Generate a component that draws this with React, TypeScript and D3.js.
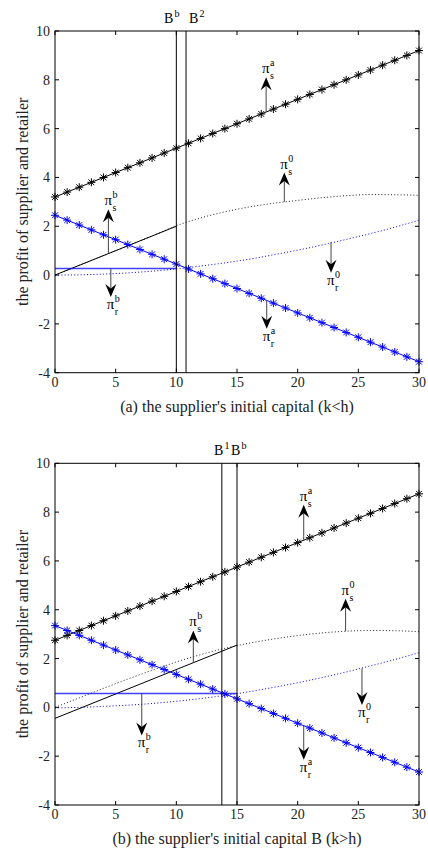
import * as d3 from "d3";

const capital = [0, 1, 2, 3, 4, 5, 6, 7, 8, 9, 10, 11, 12, 13, 14, 15, 16, 17, 18, 19, 20, 21, 22, 23, 24, 25, 26, 27, 28, 29, 30];
const capitalEven = [0, 2, 4, 6, 8, 10, 12, 14, 16, 18, 20, 22, 24, 26, 28, 30];
const xTicks = [0, 5, 10, 15, 20, 25, 30];
const yTicks = [-4, -2, 0, 2, 4, 6, 8, 10];

// panel (a) k<h
const aSupplierA = [3.2, 3.4, 3.6, 3.8, 4.0, 4.2, 4.4, 4.6, 4.8, 5.0, 5.2, 5.4, 5.6, 5.8, 6.0, 6.2, 6.4, 6.6, 6.8, 7.0, 7.2, 7.4, 7.6, 7.8, 8.0, 8.2, 8.4, 8.6, 8.8, 9.0, 9.2];
const aRetailerA = [2.45, 2.25, 2.05, 1.85, 1.65, 1.45, 1.25, 1.05, 0.85, 0.65, 0.45, 0.25, 0.05, -0.15, -0.35, -0.55, -0.75, -0.95, -1.15, -1.35, -1.55, -1.75, -1.95, -2.15, -2.35, -2.55, -2.75, -2.95, -3.15, -3.35, -3.55];
const aSupplier0 = [0, 0.4, 0.8, 1.2, 1.6, 2.02, 2.34, 2.59, 2.79, 2.94, 3.06, 3.17, 3.25, 3.3, 3.29, 3.27];
const aRetailer0 = [0, 0.01, 0.04, 0.09, 0.16, 0.25, 0.37, 0.5, 0.65, 0.83, 1.02, 1.23, 1.46, 1.7, 1.96, 2.25];
const aSupplierBX = [0, 10];
const aSupplierBY = [0, 2];
const aRetailerBX = [0, 10];
const aRetailerBY = [0.27, 0.27];
const aBounds = [10, 10.8];
const aBoundSup = ["b", "2"];
const aArrowX = [17.4, 18.9, 4.4, 4.6, 22.75, 17.45];
const aArrowFrom = [6.68, 3.0, 0.88, 0.27, 1.35, -1.04];
const aArrowTo = [8.1, 4.2, 2.7, -0.9, 0.1, -2.2];
const aArrowSub = ["s", "s", "s", "r", "r", "r"];
const aArrowSup = ["a", "0", "b", "b", "0", "a"];

// panel (b) k>h
const bSupplierA = [2.75, 2.95, 3.15, 3.35, 3.55, 3.75, 3.95, 4.15, 4.35, 4.55, 4.75, 4.95, 5.15, 5.35, 5.55, 5.75, 5.95, 6.15, 6.35, 6.55, 6.75, 6.95, 7.15, 7.35, 7.55, 7.75, 7.95, 8.15, 8.35, 8.55, 8.75];
const bRetailerA = [3.35, 3.15, 2.95, 2.75, 2.55, 2.35, 2.15, 1.95, 1.75, 1.55, 1.35, 1.15, 0.95, 0.75, 0.55, 0.35, 0.15, -0.05, -0.25, -0.45, -0.65, -0.85, -1.05, -1.25, -1.45, -1.65, -1.85, -2.05, -2.25, -2.45, -2.65];
const bSupplier0 = [0, 0.39, 0.78, 1.16, 1.52, 1.86, 2.16, 2.42, 2.63, 2.8, 2.94, 3.05, 3.12, 3.15, 3.14, 3.1];
const bRetailer0 = [-0.02, 0.0, 0.04, 0.09, 0.16, 0.25, 0.36, 0.49, 0.64, 0.82, 1.01, 1.22, 1.45, 1.7, 1.96, 2.24];
const bSupplierBX = [0, 15];
const bSupplierBY = [-0.45, 2.55];
const bRetailerBX = [0, 15];
const bRetailerBY = [0.57, 0.57];
const bBounds = [13.75, 15];
const bBoundSup = ["1", "b"];
const bArrowX = [20.5, 23.95, 11.4, 7.15, 25.3, 20.5];
const bArrowFrom = [6.85, 3.12, 1.83, 0.57, 1.6, -0.75];
const bArrowTo = [8.3, 4.45, 3.15, -1.15, 0.1, -2.15];
const bArrowSub = ["s", "s", "s", "r", "r", "r"];
const bArrowSup = ["a", "0", "b", "b", "0", "a"];

const FONT = "'Liberation Serif', 'Times New Roman', serif";
const BLUE = "#0000ff";

const zip = (xs: number[], ys: number[]) => xs.map((x, i) => [x, ys[i]] as [number, number]);

const Star = ({ x, y, color }: { x: number; y: number; color: string }) => {
  const a = 4;
  const b = 2.9;
  return (
    <path
      d={`M${x - a},${y}H${x + a}M${x},${y - a}V${y + a}M${x - b},${y - b}L${x + b},${y + b}M${x - b},${y + b}L${x + b},${y - b}`}
      stroke={color}
      strokeWidth={1}
    />
  );
};

const Panel = (props: any) => {
  const { top, bottom, title, sA, rA, s0, r0, sbx, sby, rbx, rby, bounds, boundSup, boundLabelX, ax, af, at, asub, asup } = props;
  const x = d3.scaleLinear().domain([0, 30]).range([55, 419]);
  const y = d3.scaleLinear().domain([-4, 10]).range([bottom, top]);
  const line = d3.line<[number, number]>().x((d) => x(d[0])).y((d) => y(d[1]));
  const curve = d3.line<[number, number]>().x((d) => x(d[0])).y((d) => y(d[1])).curve(d3.curveMonotoneX);
  const mid = (top + bottom) / 2;

  return (
    <g fontFamily={FONT}>
      {/* dotted reference curves */}
      <path d={curve(zip(capitalEven, s0)) || ""} fill="none" stroke="#222" strokeWidth={1} strokeDasharray="1,2.2" />
      <path d={curve(zip(capitalEven, r0)) || ""} fill="none" stroke={BLUE} strokeWidth={1} strokeDasharray="1,2.2" />
      {/* pi_b lines */}
      <path d={line(zip(sbx, sby)) || ""} fill="none" stroke="#000" strokeWidth={1} />
      <path d={line(zip(rbx, rby)) || ""} fill="none" stroke={BLUE} strokeWidth={1.4} opacity={0.75} />
      {/* pi_a lines with markers */}
      <path d={line(zip(capital, sA)) || ""} fill="none" stroke="#000" strokeWidth={1} />
      <path d={line(zip(capital, rA)) || ""} fill="none" stroke={BLUE} strokeWidth={1} />
      {capital.map((c, i) => (
        <Star key={"s" + i} x={x(c)} y={y(sA[i])} color="#000" />
      ))}
      {capital.map((c, i) => (
        <Star key={"r" + i} x={x(c)} y={y(rA[i])} color={BLUE} />
      ))}
      {/* threshold lines */}
      {bounds.map((b: number, i: number) => (
        <line key={"b" + i} x1={x(b)} x2={x(b)} y1={top} y2={bottom} stroke="#000" strokeWidth={1} />
      ))}
      {bounds.map((b: number, i: number) => (
        <g key={"bl" + i}>
          <text x={boundLabelX[i]} y={top - 8} fontSize={14}>B</text>
          <text x={boundLabelX[i] + 10.5} y={top - 14} fontSize={10}>{boundSup[i]}</text>
        </g>
      ))}
      {/* arrows */}
      {ax.map((a: number, i: number) => {
        const px = x(a);
        const y0 = y(af[i]);
        const y1 = y(at[i]);
        const d = y1 < y0 ? -1 : 1;
        const head = `M${px},${y1}L${px - 5.5},${y1 - d * 13}L${px},${y1 - d * 8.5}L${px + 5.5},${y1 - d * 13}Z`;
        const base = d < 0 ? y1 - 4 : y1 + 12;
        return (
          <g key={"a" + i}>
            <line x1={px} x2={px} y1={y0} y2={y1 - d * 8.5} stroke="#444" strokeWidth={1} />
            <path d={head} fill="#000" />
            <text x={px - 4} y={base} fontSize={15}>π</text>
            <text x={px + 4} y={base - 7} fontSize={10}>{asup[i]}</text>
            <text x={px + 4} y={base + 6} fontSize={10}>{asub[i]}</text>
          </g>
        );
      })}
      {/* box + ticks */}
      <rect x={55} y={top} width={364} height={bottom - top} fill="none" stroke="#000" strokeWidth={1} />
      {xTicks.map((t) => (
        <g key={"xt" + t}>
          <line x1={x(t)} x2={x(t)} y1={bottom} y2={bottom - 4} stroke="#000" />
          <line x1={x(t)} x2={x(t)} y1={top} y2={top + 4} stroke="#000" />
          <text x={x(t)} y={bottom + 14} fontSize={14} textAnchor="middle" fill="#222">{t}</text>
        </g>
      ))}
      {yTicks.map((t) => (
        <g key={"yt" + t}>
          <line x1={55} x2={59} y1={y(t)} y2={y(t)} stroke="#000" />
          <line x1={419} x2={415} y1={y(t)} y2={y(t)} stroke="#000" />
          <text x={50} y={y(t) + 5} fontSize={14} textAnchor="end" fill="#222">{t}</text>
        </g>
      ))}
      <text x={237} y={bottom + 39} fontSize={16} textAnchor="middle" fill="#222">{title}</text>
      <text transform={`translate(28,${mid}) rotate(-90)`} fontSize={16} textAnchor="middle" fill="#222">
        the profit of supplier and retailer
      </text>
    </g>
  );
};

export default function App() {
  return (
    <svg width={428} height={852} style={{ position: "absolute", left: 0, top: 0, background: "#fff" }}>
      <Panel
        top={31}
        bottom={372.7}
        title="(a) the supplier's initial capital (k<h)"
        sA={aSupplierA}
        rA={aRetailerA}
        s0={aSupplier0}
        r0={aRetailer0}
        sbx={aSupplierBX}
        sby={aSupplierBY}
        rbx={aRetailerBX}
        rby={aRetailerBY}
        bounds={aBounds}
        boundSup={aBoundSup}
        boundLabelX={[164, 189]}
        ax={aArrowX}
        af={aArrowFrom}
        at={aArrowTo}
        asub={aArrowSub}
        asup={aArrowSup}
      />
      <Panel
        top={463.3}
        bottom={805}
        title="(b) the supplier's initial capital B (k>h)"
        sA={bSupplierA}
        rA={bRetailerA}
        s0={bSupplier0}
        r0={bRetailer0}
        sbx={bSupplierBX}
        sby={bSupplierBY}
        rbx={bRetailerBX}
        rby={bRetailerBY}
        bounds={bBounds}
        boundSup={bBoundSup}
        boundLabelX={[214, 231]}
        ax={bArrowX}
        af={bArrowFrom}
        at={bArrowTo}
        asub={bArrowSub}
        asup={bArrowSup}
      />
    </svg>
  );
}
